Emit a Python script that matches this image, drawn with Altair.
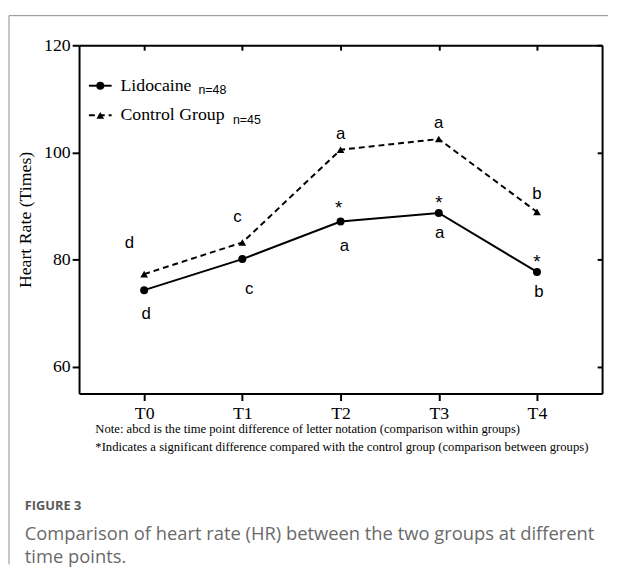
import altair as alt
import pandas as pd

# ---- data ----
times = ["T0", "T1", "T2", "T3", "T4"]
lidocaine_hr = [74.3, 80.1, 87.1, 88.7, 77.7]
control_hr = [77.3, 83.2, 100.5, 102.5, 88.9]
lidocaine_letters = ["d", "c", "a", "a", "b"]
control_letters = ["d", "c", "a", "a", "b"]
lidocaine_stars = ["", "", "*", "*", "*"]
y_ticks = [60, 80, 100, 120]
y_domain = [55, 120]
legend_names = ["Lidocaine", "Control Group"]
legend_ns = ["n=48", "n=45"]
y_title = "Heart Rate (Times)"
notes = [
    "Note: abcd is the time point difference of letter notation (comparison within groups)",
    "*Indicates a significant difference compared with the control group (comparison between groups)",
]
fig_label = "FIGURE 3"
caption = [
    "Comparison of heart rate (HR) between the two groups at different",
    "time points.",
]

W, H = 530, 353
SERIF = "Liberation Serif"
SANS = "Liberation Sans"
CAP = "Open Sans"

lido_df = pd.DataFrame({"time": times, "hr": lidocaine_hr,
                        "letter": lidocaine_letters, "star": lidocaine_stars})
ctrl_df = pd.DataFrame({"time": times, "hr": control_hr, "letter": control_letters})
one = pd.DataFrame({"k": [0]})

x_scale = alt.Scale(type="point", domain=times, padding=0.663)
y_scale = alt.Scale(domain=y_domain, nice=False, zero=False)


def X(axis=None):
    return alt.X("time:N", scale=x_scale, axis=axis)


def Y(axis=None):
    return alt.Y("hr:Q", scale=y_scale, axis=axis)


x_axis = alt.Axis(orient="bottom", title=notes, labelFont=SERIF, labelFontSize=18,
                  labelColor="black", labelAngle=0, labelPadding=4, tickSize=7,
                  tickWidth=2, tickColor="black", domainColor="black", domainWidth=2,
                  grid=False, titleFont=SERIF, titleFontSize=12.8, titleFontWeight="normal",
                  titleColor="black", titleAlign="left", titleAnchor="start",
                  titleX=16, titleY=29, titleBaseline="top", titleLineHeight=19)
y_axis = alt.Axis(orient="left", values=y_ticks, title=y_title, labelFont=SERIF,
                  labelFontSize=18, labelColor="black", labelPadding=2, tickSize=7,
                  tickWidth=2, tickColor="black", domainColor="black", domainWidth=2,
                  grid=False, titleFont=SERIF, titleFontSize=18, titleFontWeight="normal",
                  titleColor="black", titlePadding=9)
mirror_x = alt.Axis(orient="bottom", offset=-H, labels=False, title=None, tickSize=5,
                    tickWidth=2, tickColor="black", domainColor="black", domainWidth=2,
                    grid=False)
mirror_y = alt.Axis(orient="left", offset=-W, values=y_ticks, labels=False, title=None,
                    tickSize=5, tickWidth=2, tickColor="black", domainColor="black",
                    domainWidth=2, grid=False)

lido_line = alt.Chart(lido_df).mark_line(color="black", strokeWidth=2).encode(
    x=X(x_axis), y=Y(y_axis))
mirror = alt.Chart(ctrl_df).mark_point(opacity=0).encode(x=X(mirror_x), y=Y(mirror_y))
ctrl_line = alt.Chart(ctrl_df).mark_line(color="black", strokeWidth=2,
                                         strokeDash=[6, 4]).encode(x=X(), y=Y())
lido_pts = alt.Chart(lido_df).mark_point(shape="circle", filled=True, size=65,
                                         color="black", opacity=1).encode(x=X(), y=Y())
ctrl_pts = alt.Chart(ctrl_df).mark_point(shape="triangle-up", filled=True, size=60,
                                         color="black", opacity=1).encode(x=X(), y=Y())


def labels(df, field, idx, dx, dy, size=17):
    sub = df.iloc[idx]
    return alt.Chart(sub).mark_text(dx=dx, dy=dy, font=SANS, fontSize=size,
                                    color="black", baseline="middle").encode(
        x=X(), y=Y(), text=f"{field}:N")


ann = [
    labels(ctrl_df, "letter", [0], -15, -31),
    labels(ctrl_df, "letter", [1], -5, -26),
    labels(ctrl_df, "letter", [2, 3], 0, -16),
    labels(ctrl_df, "letter", [4], 0, -18),
    labels(lido_df, "letter", [0], 2, 24),
    labels(lido_df, "letter", [1], 7, 30),
    labels(lido_df, "letter", [2], 4, 25),
    labels(lido_df, "letter", [3], 1, 20),
    labels(lido_df, "letter", [4], 2, 20),
    labels(lido_df, "star", [2], -2, -14, 19),
    labels(lido_df, "star", [3, 4], 0, -10, 19),
]

# ---- legend (inside plot, top-left) ----
leg = [
    alt.Chart(one).mark_rule(color="black", strokeWidth=2).encode(
        x=alt.value(10), x2=alt.value(33), y=alt.value(41)),
    alt.Chart(one).mark_point(shape="circle", filled=True, size=65, color="black",
                              opacity=1).encode(x=alt.value(21.5), y=alt.value(41)),
    alt.Chart(one).mark_text(align="left", baseline="middle", font=SERIF, fontSize=18,
                             color="black").encode(
        x=alt.value(42), y=alt.value(41), text=alt.value(legend_names[0])),
    alt.Chart(one).mark_text(align="left", baseline="middle", font=SANS, fontSize=12.5,
                             color="black").encode(
        x=alt.value(121), y=alt.value(45), text=alt.value(legend_ns[0])),
    alt.Chart(one).mark_rule(color="black", strokeWidth=2, strokeDash=[6, 4]).encode(
        x=alt.value(10), x2=alt.value(33), y=alt.value(71)),
    alt.Chart(one).mark_point(shape="triangle-up", filled=True, size=60, color="black",
                              opacity=1).encode(x=alt.value(21.5), y=alt.value(71)),
    alt.Chart(one).mark_text(align="left", baseline="middle", font=SERIF, fontSize=18,
                             color="black").encode(
        x=alt.value(42), y=alt.value(71), text=alt.value(legend_names[1])),
    alt.Chart(one).mark_text(align="left", baseline="middle", font=SANS, fontSize=12.5,
                             color="black").encode(
        x=alt.value(156), y=alt.value(76), text=alt.value(legend_ns[1])),
]

# ---- figure frame and caption ----
frame = [
    alt.Chart(one).mark_rule(color="#8c8c8c", strokeWidth=1).encode(
        x=alt.value(-71), x2=alt.value(536), y=alt.value(-30)),
    alt.Chart(one).mark_rule(color="#8c8c8c", strokeWidth=1).encode(
        x=alt.value(-71), y=alt.value(-30), y2=alt.value(526)),
]
cap = [
    alt.Chart(one).mark_text(align="left", baseline="middle", font=CAP, fontSize=13,
                             fontWeight="bold", color="#5a5a5a").encode(
        x=alt.value(-55), y=alt.value(467), text=alt.value(fig_label)),
    alt.Chart(one).mark_text(align="left", baseline="middle", font=CAP, fontSize=18.6,
                             color="#6a6a6a").encode(
        x=alt.value(-55), y=alt.value(495), text=alt.value(caption[0])),
    alt.Chart(one).mark_text(align="left", baseline="middle", font=CAP, fontSize=18.6,
                             color="#6a6a6a").encode(
        x=alt.value(-55), y=alt.value(519), text=alt.value(caption[1])),
]

chart = alt.layer(
    lido_line, mirror, ctrl_line, lido_pts, ctrl_pts, *ann, *leg, *frame, *cap
).resolve_axis(x="independent", y="independent").properties(
    width=W, height=H, padding={"left": 0, "top": 3, "right": 0, "bottom": 0}
).configure_view(strokeWidth=0)

chart.save("out.html", embed_options={"renderer": "svg", "actions": False})
